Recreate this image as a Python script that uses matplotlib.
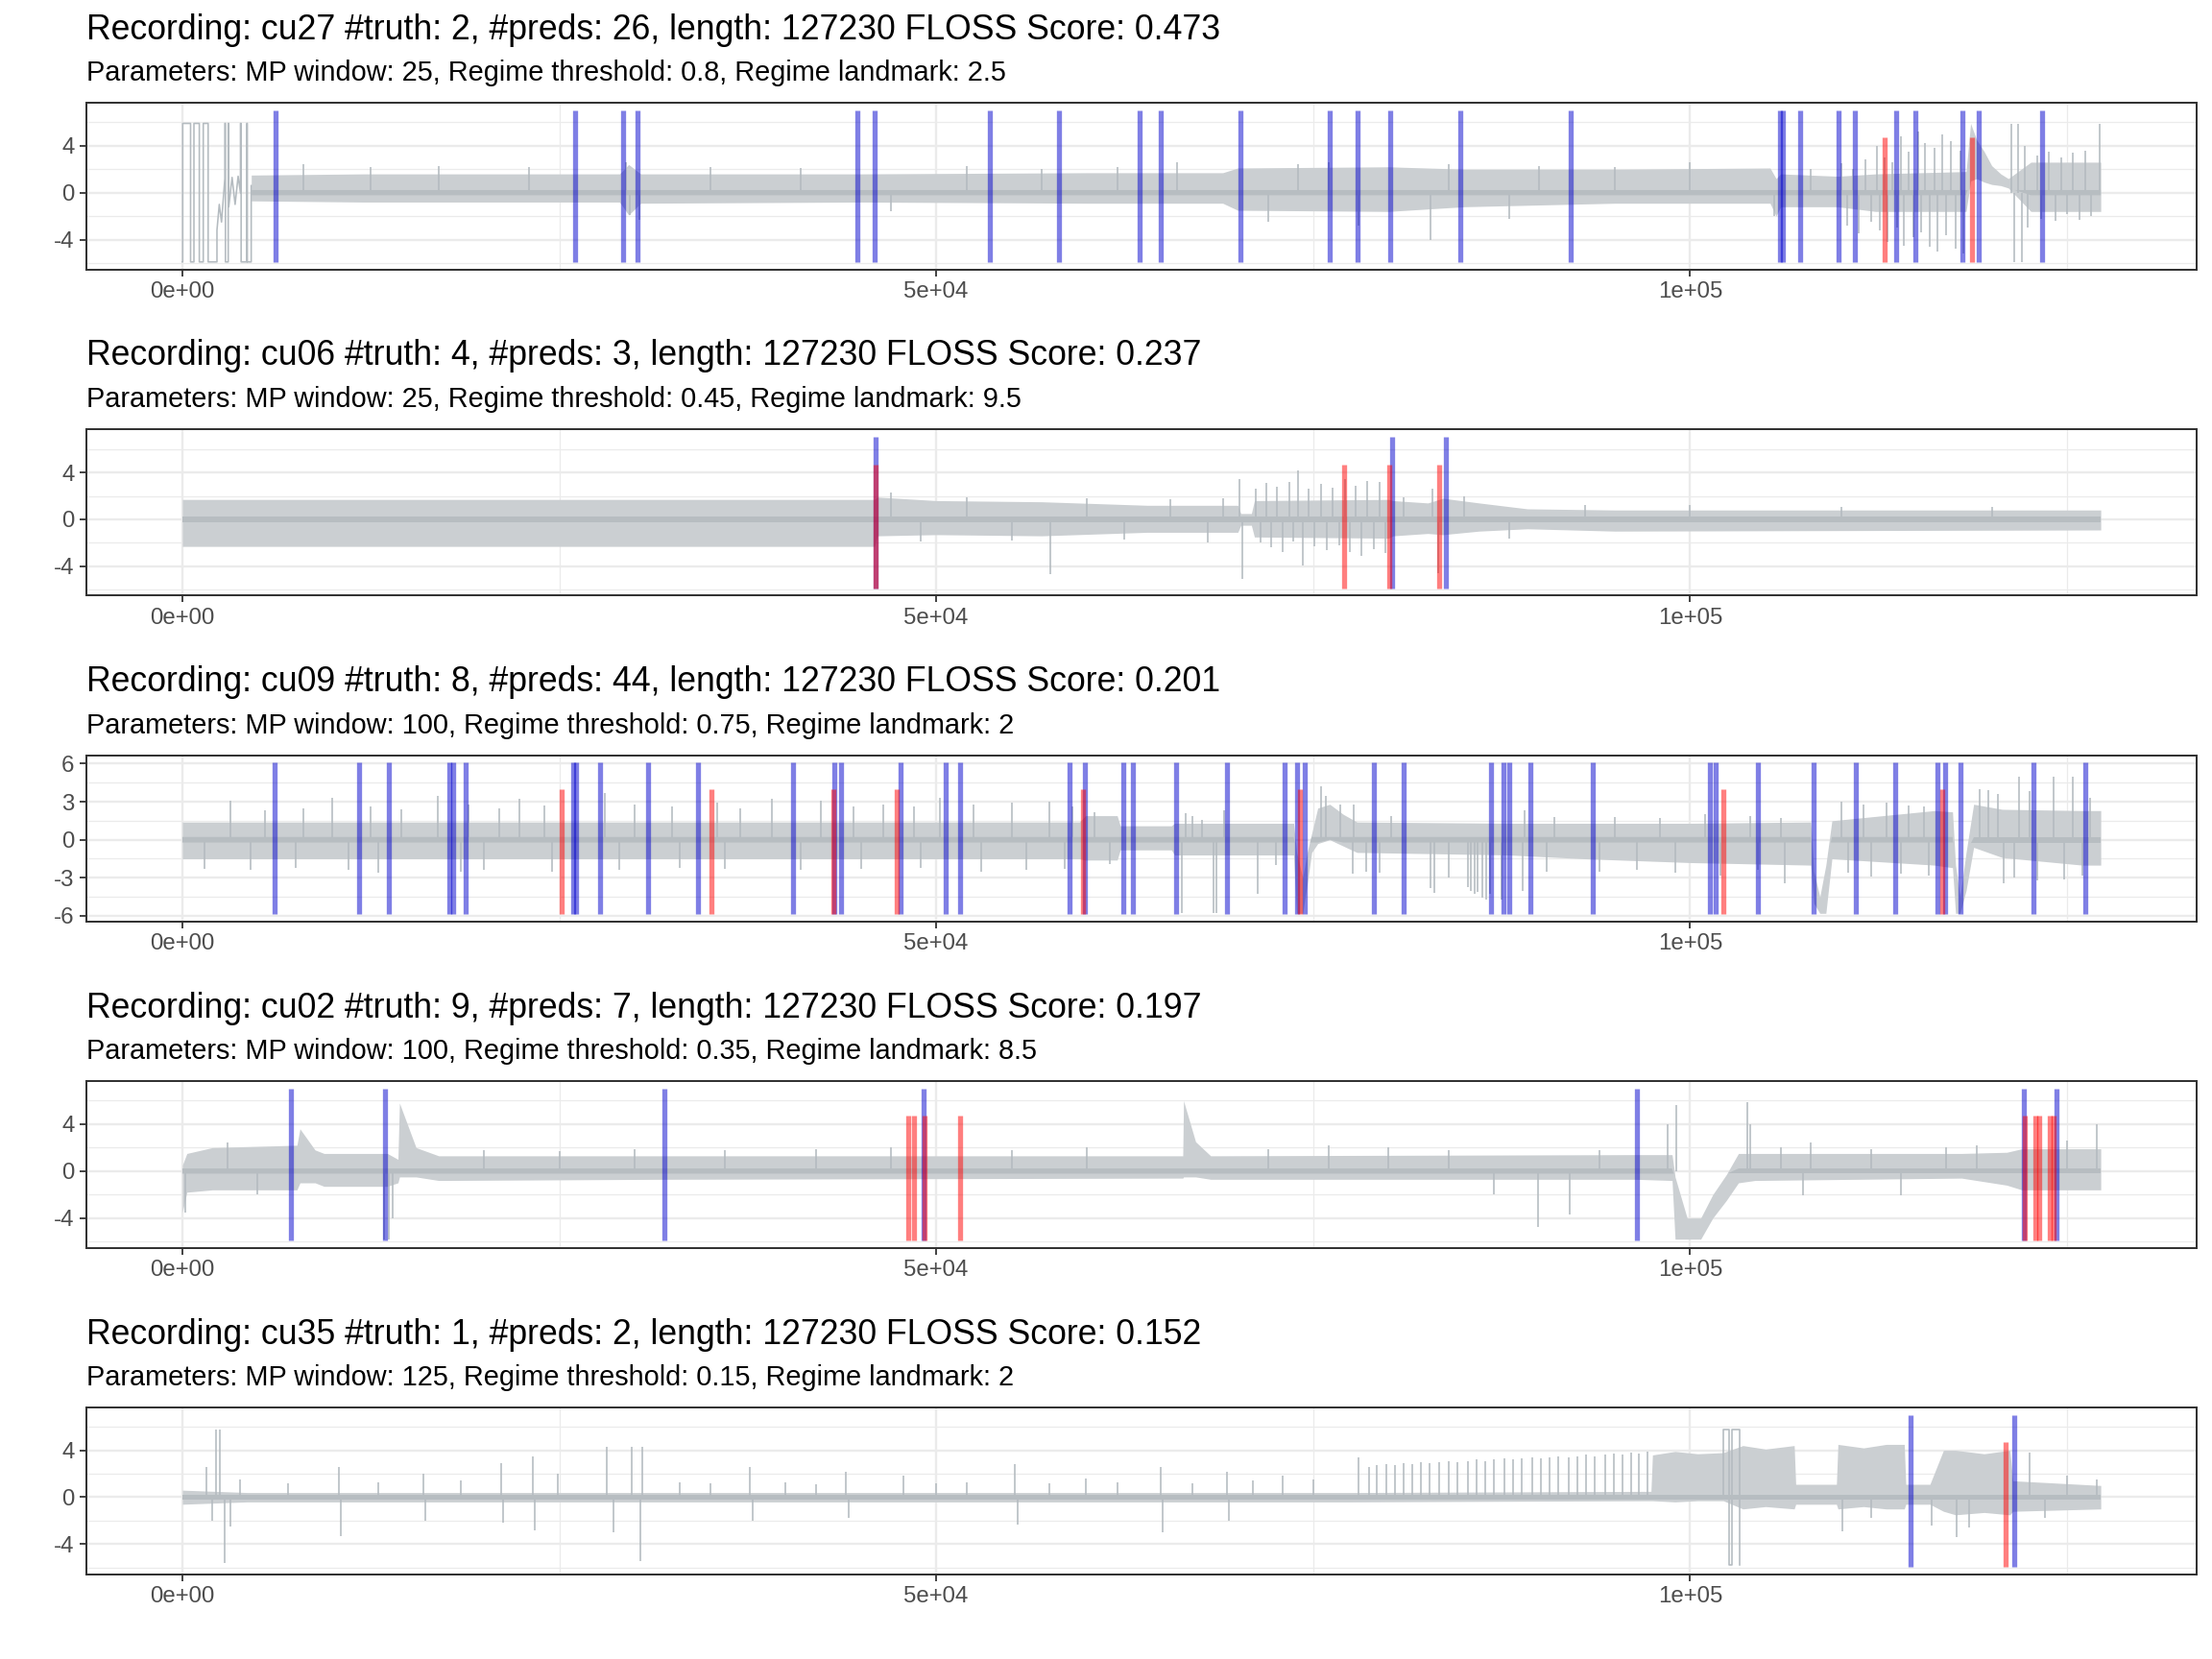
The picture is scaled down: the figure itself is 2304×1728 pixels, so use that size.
import numpy as np
import matplotlib
matplotlib.use("Agg")
import matplotlib.pyplot as plt
from matplotlib.ticker import FixedLocator

plt.rcParams['font.family'] = ['Liberation Sans', 'DejaVu Sans']

# ---------------- data ----------------
LENGTH = 127230
recordings = ["cu27", "cu06", "cu09", "cu02", "cu35"]
n_truth = [2, 4, 8, 9, 1]
n_preds = [26, 3, 44, 7, 2]
floss_score = ["0.473", "0.237", "0.201", "0.197", "0.152"]
mp_window = [25, 25, 100, 100, 125]
regime_threshold = ["0.8", "0.45", "0.75", "0.35", "0.15"]
regime_landmark = ["2.5", "9.5", "2", "8.5", "2"]

x_tick_values = [0, 50000, 100000]
x_tick_labels = ["0e+00", "5e+04", "1e+05"]

# segment extents (bottom, pred top, truth top)
seg_bottom = [-5.9, -5.85, -5.87, -5.9, -5.9]
pred_top = [7.0, 7.05, 6.07, 7.0, 7.0]
truth_top = [4.7, 4.7, 3.95, 4.7, 4.7]

# ---- cu27 ----
cu27_preds = [6168, 26075, 29253, 30188, 44767, 45889, 53553, 58132, 63459, 64861,
              70188, 76076, 77946, 80095, 84768, 92058, 105950, 106150, 107292, 109816,
              110937, 113647, 114956, 118040, 119162, 123367]
cu27_truth = [112900, 118694]
cu27_band_x = [4570, 12000, 29000, 29600, 30400, 45000, 60000, 69000, 70000, 80000, 85000,
               95000, 105300, 105700, 106000, 109800, 112300, 118300, 118600, 119000, 119500,
               120000, 120600, 121100, 122600, 127230]
cu27_band_hi = [1.5, 1.6, 1.6, 2.4, 1.6, 1.6, 1.7, 1.7, 2.1, 2.2, 2.0, 2.0, 2.1, 1.2, 1.6, 1.4,
                1.6, 1.8, 5.9, 4.5, 3.5, 2.3, 1.6, 1.2, 2.6, 2.6]
cu27_band_lo = [-0.7, -0.8, -0.8, -1.9, -0.9, -0.8, -0.9, -0.9, -1.5, -1.6, -1.2, -0.9, -0.9,
                -2.0, -1.2, -1.2, -1.6, -1.6, 1.0, 1.2, 0.9, 0.7, 0.6, 0.4, -1.6, -1.6]
cu27_trace_x = [0, 25, 25, 547, 547, 770, 770, 1127, 1127, 1389, 1389, 1712, 1712, 2297, 2297,
                2450, 2600, 2819, 2819, 2860, 2860, 3044, 3044, 3080, 3080, 3300, 3500, 3700,
                3856, 3856, 3900, 3900, 4276, 4276, 4310, 4310, 4569, 4569]
cu27_trace_y = [-5.9, -5.9, 5.9, 5.9, -5.9, -5.9, 5.9, 5.9, -5.9, -5.9, 5.9, 5.9, -5.9, -5.9,
                -3.2, -1.0, -2.5, 1.2, 5.9, 5.9, -5.9, -5.9, 5.9, 5.9, -1.2, 1.3, -1.0, 1.4,
                0.0, 5.9, 5.9, -5.9, -5.9, 5.9, 5.9, -5.9, -5.9, 0.6]
cu27_spike_x = [8000, 12500, 17000, 23000, 29400, 29700, 30300, 35000, 41000, 47000, 52000,
                57000, 62000, 66000, 72000, 74000, 76000, 78000, 82800, 84000, 88000, 90000,
                95000, 100000, 105600, 108000, 110000, 110400, 110800, 111200, 111600, 112000,
                112400, 112600, 112900, 113100, 113400, 113700, 114000, 114200, 114500, 114800,
                115100, 115300, 115600, 115900, 116200, 116400, 116700, 117000, 117300, 117600,
                117900, 118100, 121300, 121500, 121750, 122000, 122200, 122400, 123000, 123300,
                123800, 124200, 124600, 125000, 125400, 125800, 126200, 126600, 127150]
cu27_spike_y = [2.4, 2.2, 2.3, 2.2, 2.6, -1.9, -2.3, 2.2, 2.1, -1.6, 2.3, 2.0, 2.2, 2.6, -2.5,
                2.4, 2.6, -2.8, -4.0, 2.4, -2.2, 2.3, 2.2, 2.6, -2.0, 2.0, 2.5, -2.8, 2.0, -3.5,
                2.8, -2.5, 4.0, -3.2, 3.0, -4.2, 2.6, -3.0, 4.8, -4.5, 3.5, -3.8, 5.2, -3.4,
                4.2, -4.6, 3.8, -5.0, 5.0, -3.6, 4.4, -4.8, 3.6, -5.2, 5.9, -5.9, 5.9, -5.9,
                4.0, -3.0, 3.2, -2.2, 3.5, -2.4, 3.0, -1.8, 3.4, -2.3, 3.6, -2.0, 5.9]

# ---- cu06 ----
cu06_preds = [45992, 80217, 83806]
cu06_truth = [45992, 77039, 80020, 83329]
cu06_band_x = [0, 45900, 46100, 50000, 57000, 64000, 70000, 70200, 70900, 71100, 80000, 80300,
               82600, 83600, 86000, 89200, 95000, 127230]
cu06_band_hi = [1.7, 1.7, 1.9, 1.6, 1.5, 1.2, 1.2, 0.5, 0.5, 1.6, 1.7, 1.6, 1.4, 1.8, 1.4, 0.9,
                0.8, 0.8]
cu06_band_lo = [-2.3, -2.3, -1.4, -1.3, -1.4, -1.1, -1.1, -0.5, -0.5, -1.5, -1.6, -1.4, -1.2,
                -1.3, -1.0, -0.8, -1.0, -0.9]
cu06_trace_x = []
cu06_trace_y = []
cu06_spike_x = [47000, 49000, 52000, 55000, 57570, 60000, 62500, 65500, 68000, 69000, 70140,
                70300, 71200, 71500, 71900, 72200, 72600, 73000, 73400, 73700, 74000, 74300,
                74700, 75100, 75500, 75900, 76300, 76700, 77100, 77400, 77800, 78200, 78600,
                79000, 79400, 79800, 81000, 82900, 83300, 85000, 88000, 93000, 100000, 110000,
                120000]
cu06_spike_y = [2.3, -1.9, 1.9, -1.8, -4.7, 1.8, -1.7, 1.75, -2.0, 1.8, 3.4, -5.1, 2.6, -2.0,
                3.1, -2.4, 2.8, -2.8, 3.2, -1.9, 4.2, -3.9, 2.6, -2.3, 3.0, -2.6, 2.7, -2.2,
                3.4, -2.8, 2.9, -3.1, 3.3, -2.5, 3.2, -2.9, 1.9, 2.6, -4.6, 2.0, -1.6, 1.2,
                1.2, 1.1, 1.1]

# ---- cu09 ----
cu09_preds = [6104, 11703, 13697, 17728, 17982, 18809, 25893, 26083, 27718, 30899, 34207,
              40507, 43223, 43707, 47614, 50605, 51598, 58813, 59850, 62415, 63013, 65914,
              69312, 73130, 73913, 74422, 79003, 81020, 86810, 87593, 88019, 89393, 93511,
              101318, 101700, 104519, 108209, 111009, 113598, 116417, 116907, 117945, 122775,
              126191]
cu09_truth = [25128, 35079, 43179, 47379, 59743, 74123, 102183, 116716]
cu09_band_x = [0, 59500, 59900, 62000, 62200, 65600, 65800, 73700, 73900, 74300, 74600, 74900,
               75300, 76100, 77000, 77900, 88000, 93000, 100000, 108000, 108200, 108600,
               109000, 109400, 116200, 117400, 117600, 117900, 118300, 118800, 120700, 126000,
               127230]
cu09_band_hi = [1.4, 1.4, 1.9, 1.9, 1.1, 1.1, 1.3, 1.3, -1.0, -3.0, -1.0, 0.5, 2.5, 2.8, 2.0,
                1.4, 1.3, 1.3, 1.3, 1.4, -2.5, -4.5, -2.0, 1.5, 2.3, 2.2, -2.0, -4.5, -1.0,
                2.8, 2.4, 2.3, 2.3]
cu09_band_lo = [-1.5, -1.5, -1.6, -1.6, -0.8, -0.8, -1.2, -1.2, -5.8, -5.8, -3.5, -1.0, -0.3,
                0.0, -0.5, -1.0, -1.2, -1.5, -1.8, -2.0, -5.0, -5.8, -5.8, -1.5, -2.0, -2.2,
                -5.8, -5.8, -4.0, -0.6, -1.4, -2.0, -2.0]
cu09_trace_x = []
cu09_trace_y = []
cu09_spike_x = [1500, 3163, 4500, 5500, 7500, 8000, 9966, 11000, 12500, 13000, 14500, 16920,
                18500, 19000, 20000, 21000, 22372, 24000, 24500, 27990, 29000, 30000, 32500,
                33000, 35500, 36000, 37000, 39127, 41000, 42370, 44500, 45000, 46500, 48500,
                49000, 50262, 52500, 53000, 55000, 56000, 57500, 58500, 59000, 60500, 61500,
                66276, 66540, 67000, 67600, 68400, 68600, 69100, 71350, 72500, 75550, 75850,
                76800, 77600, 77700, 78500, 79400, 80200, 82800, 83010, 84000, 85260, 85470,
                85680, 85900, 86220, 86490, 86750, 87490, 88870, 89000, 90500, 91000, 94000,
                95000, 96500, 98000, 99000, 101000, 102000, 104000, 104500, 106000, 106260,
                110000, 110500, 111500, 112000, 113000, 114000, 114500, 115500, 115800, 119200,
                119800, 120400, 120800, 121500, 121800, 122500, 123000, 124100, 124800, 125350,
                126000, 126500]
cu09_spike_y = [-2.3, 3.1, -2.4, 2.3, -2.2, 2.5, 3.3, -2.4, 2.6, -2.6, 2.4, 3.45, -2.5, 2.8,
                -2.4, 2.5, 3.2, 2.7, -2.5, 3.7, -2.4, 2.8, 2.6, -2.2, 2.9, -2.3, 2.5, 3.2, -2.4,
                3.1, 2.6, -2.3, 2.8, 2.6, -2.2, 3.3, 2.8, -2.5, 2.9, -2.4, 3.0, -2.3, 2.6, 2.2,
                -1.9, -5.8, 2.1, 1.9, 1.6, -5.8, -5.8, 2.3, -4.3, -2.0, 4.2, 3.45, 2.8, -2.7,
                2.8, -2.5, -2.6, 1.9, -3.8, -4.2, -3.0, -3.7, -4.0, -4.3, -4.1, -4.6, -4.7,
                -4.3, -4.7, -4.0, 2.3, -2.5, 1.8, -2.5, 1.8, -2.4, 1.7, -2.6, 2.0, -2.8, 1.9,
                -2.4, 1.7, -3.4, 3.0, -2.6, 2.8, -2.9, 2.9, -2.7, 2.7, 2.6, -2.8, 4.0, 3.9, 3.6,
                -3.4, -3.0, 5.0, 3.8, -3.2, 5.0, -3.1, 5.0, -2.8, 3.3]

# ---- cu02 ----
cu02_preds = [7203, 13464, 31974, 49180, 96469, 122150, 124289]
cu02_truth = [48122, 48505, 49205, 51578, 122185, 122924, 123161, 123880, 124072]
cu02_band_x = [0, 300, 2000, 7600, 7800, 8800, 9400, 13600, 14300, 14400, 15500, 17000, 32000,
               66350, 66400, 67200, 68200, 96400, 98800, 99000, 99800, 100700, 101500, 102400,
               103200, 104300, 118000, 121000, 122000, 127230]
cu02_band_hi = [0.5, 1.5, 2.0, 2.2, 3.6, 1.8, 1.5, 1.5, 1.0, 5.8, 2.0, 1.3, 1.3, 1.3, 6.0, 2.5,
                1.3, 1.4, 1.4, -0.5, -4.0, -4.0, -2.0, -0.3, 1.5, 1.5, 1.5, 1.6, 1.9, 1.9]
cu02_band_lo = [-3.5, -1.8, -1.6, -1.6, -1.0, -1.0, -1.3, -1.3, -1.0, -0.5, -0.5, -0.8, -0.7,
                -0.6, -0.5, -0.5, -0.7, -0.7, -0.8, -5.8, -5.8, -5.8, -4.0, -2.5, -1.0, -0.8,
                -0.6, -1.2, -1.6, -1.6]
cu02_trace_x = []
cu02_trace_y = []
cu02_spike_x = [200, 3000, 5000, 13400, 13700, 13950, 20000, 25000, 30000, 36000, 42000, 47000,
                55000, 60000, 72000, 76000, 80000, 84000, 87000, 89895, 91985, 94000, 98500,
                99100, 103800, 104000, 106000, 107500, 108000, 112000, 114000, 117000, 119000,
                125000, 127000]
cu02_spike_y = [-3.5, 2.4, -2.0, -5.8, -5.8, -4.0, 1.8, 1.7, 1.9, 1.8, 1.9, 2.0, 1.8, 2.0, 1.9,
                2.2, 2.0, 1.8, -2.0, -4.8, -3.7, 1.8, 4.0, 5.6, 5.9, 4.0, 2.0, -2.1, 2.4, 1.9,
                -2.1, 2.0, 2.2, 2.6, 4.0]

# ---- cu35 ----
cu35_preds = [114604, 121521]
cu35_truth = [120900]
cu35_band_x = [0, 4300, 77600, 97400, 97500, 99000, 100500, 102200, 103500, 105000, 106900,
               107000, 109700, 109800, 111500, 113000, 114200, 114300, 115900, 116800, 117600,
               119500, 121200, 121400, 127230]
cu35_band_hi = [0.6, 0.4, 0.4, 0.5, 3.6, 3.9, 3.7, 3.8, 4.4, 4.1, 4.4, 1.1, 1.1, 4.5, 4.2, 4.5,
                4.5, 1.1, 1.1, 4.0, 4.0, 3.7, 4.0, 1.4, 1.0]
cu35_band_lo = [-0.6, -0.4, -0.4, -0.3, -0.3, -0.4, -0.3, -0.3, -1.0, -0.8, -1.0, -0.6, -0.6,
                -1.0, -0.8, -1.0, -1.0, -0.6, -0.6, -1.2, -1.5, -1.3, -1.5, -1.2, -1.0]
cu35_trace_x = [102200, 102200, 102600, 102600, 102800, 102800, 103300, 103300]
cu35_trace_y = [0.0, 5.8, 5.8, -5.8, -5.8, 5.8, 5.8, -5.8]
cu35_spike_x = [1590, 1960, 2240, 2520, 2800, 3180, 3830, 7000, 10370, 10500, 13000, 15980,
                16100, 18500, 21120, 21300, 23270, 23400, 24900, 28130, 28600, 29810, 30370,
                30500, 33000, 35000, 37660, 37800, 40000, 42000, 44020, 44200, 47800, 50000,
                52000, 55230, 55400, 57500, 59900, 62000, 64860, 65000, 67000, 69250, 69400,
                71000, 73000, 75000,
                78024, 78734, 79245, 79870, 80438, 81006, 81574, 82142, 82710, 83335, 83988,
                84556, 85266, 85834, 86402, 86970, 87680, 88248, 88816, 89526, 90094, 90662,
                91230, 91940, 92508, 93076, 93644, 94354, 94922, 95490, 96058, 96626, 97194,
                110100, 112000, 116000, 117700, 118500, 122500, 123500, 125000, 127000]
cu35_spike_y = [2.6, -2.0, 5.8, 5.8, -5.6, -2.5, 1.5, 1.2, 2.6, -3.3, 1.3, 2.0, -2.0, 1.4, 2.9,
                -2.2, 3.5, -2.8, 2.0, 4.3, -3.0, 4.3, -5.4, 4.3, 1.3, 1.2, 2.6, -2.0, 1.3, 1.1,
                2.2, -1.8, 1.8, 1.2, 1.3, 2.8, -2.3, 1.2, 1.6, 1.3, 2.6, -3.0, 1.2, 2.2, -2.0,
                1.4, 1.8, 1.5,
                3.4, 2.6, 2.7, 2.8, 2.7, 2.9, 2.8, 3.0, 2.9, 3.0, 3.1, 3.0, 3.1, 3.2, 3.1, 3.2,
                3.3, 3.2, 3.3, 3.4, 3.3, 3.4, 3.5, 3.4, 3.5, 3.6, 3.5, 3.6, 3.7, 3.6, 3.8, 3.7,
                3.9,
                -2.9, -1.8, -2.4, -3.4, -2.6, 3.8, -1.8, 1.8, 1.5]

panels = [
    (cu27_preds, cu27_truth, cu27_band_x, cu27_band_hi, cu27_band_lo, cu27_trace_x, cu27_trace_y, cu27_spike_x, cu27_spike_y),
    (cu06_preds, cu06_truth, cu06_band_x, cu06_band_hi, cu06_band_lo, cu06_trace_x, cu06_trace_y, cu06_spike_x, cu06_spike_y),
    (cu09_preds, cu09_truth, cu09_band_x, cu09_band_hi, cu09_band_lo, cu09_trace_x, cu09_trace_y, cu09_spike_x, cu09_spike_y),
    (cu02_preds, cu02_truth, cu02_band_x, cu02_band_hi, cu02_band_lo, cu02_trace_x, cu02_trace_y, cu02_spike_x, cu02_spike_y),
    (cu35_preds, cu35_truth, cu35_band_x, cu35_band_hi, cu35_band_lo, cu35_trace_x, cu35_trace_y, cu35_spike_x, cu35_spike_y),
]

# ---------------- figure ----------------
W, H = 2304, 1728
fig = plt.figure(figsize=(16, 12), dpi=144)

AX_L, AX_R = 90, 2288
AX_TOP0, AX_H, STEP = 107.2, 173.5, 339.7
TITLE_BASE, SUB_BASE = 40.7, 84.3

SIG_BAND = '#CBCFD2'
SIG_CORE = '#B7BDC1'
SIG_LINE = '#B4BBC0'
PRED_COL = (0.0, 0.0, 0.8)
TRUTH_COL = (1.0, 0.0, 0.0)
GRID_COL = '#EBEBEB'
DARK = '#333333'
TICK_TXT = '#4D4D4D'

pad = 0.05 * (LENGTH - 1)

for i, (preds, truth, bx, bhi, blo, tx, ty, sx, sy) in enumerate(panels):
    top = AX_TOP0 + STEP * i
    ax = fig.add_axes([AX_L / W, 1 - (top + AX_H) / H, (AX_R - AX_L) / W, AX_H / H])

    lo_val = seg_bottom[i]
    hi_val = pred_top[i]
    rng = hi_val - lo_val
    ax.set_ylim(lo_val - 0.05 * rng, hi_val + 0.05 * rng)
    ax.set_xlim(-pad, LENGTH - 1 + pad)

    # grid
    if i == 2:
        ymaj = [-6, -3, 0, 3, 6]
        ymin = [-4.5, -1.5, 1.5, 4.5]
    else:
        ymaj = [-4, 0, 4]
        ymin = [-6, -2, 2, 6]
    xmin = [25000, 75000, 125000]
    for v in ymin:
        ax.axhline(v, color=GRID_COL, lw=0.6, zorder=0)
    for v in xmin:
        ax.axvline(v, color=GRID_COL, lw=0.6, zorder=0)
    for v in ymaj:
        ax.axhline(v, color=GRID_COL, lw=1.2, zorder=0)
    for v in x_tick_values:
        ax.axvline(v, color=GRID_COL, lw=1.2, zorder=0)

    # signal
    bx_a = np.asarray(bx, float)
    bhi_a = np.asarray(bhi, float)
    blo_a = np.asarray(blo, float)
    ax.fill_between(bx_a, blo_a, bhi_a, color=SIG_BAND, lw=0, zorder=1)
    chi = np.minimum(bhi_a, 0.22)
    clo = np.maximum(blo_a, -0.22)
    ax.fill_between(bx_a, clo, chi, where=chi > clo, interpolate=True,
                    color=SIG_CORE, lw=0, zorder=1.5)
    if len(sx):
        ax.vlines(sx, 0, sy, colors=SIG_LINE, lw=0.8, zorder=1.4)
    if len(tx):
        ax.plot(tx, ty, color=SIG_LINE, lw=0.8, zorder=1.4)

    # predictions and truth
    ax.vlines(preds, lo_val, hi_val, colors=[PRED_COL], alpha=0.5, lw=2.65, zorder=3)
    ax.vlines(truth, lo_val, truth_top[i], colors=[TRUTH_COL], alpha=0.5, lw=2.65, zorder=4)

    # axes styling
    ax.xaxis.set_major_locator(FixedLocator(x_tick_values))
    ax.set_xticklabels(x_tick_labels)
    ax.yaxis.set_major_locator(FixedLocator(ymaj))
    ax.set_yticklabels([str(v) for v in ymaj])
    ax.tick_params(axis='both', which='major', length=3.44, width=0.9, color=DARK,
                   labelcolor=TICK_TXT, labelsize=12, pad=2.75)
    ax.tick_params(top=False, right=False)
    for sp in ax.spines.values():
        sp.set_color(DARK)
        sp.set_linewidth(1.0)
        sp.set_zorder(6)
    ax.set_facecolor('white')

    title = (f"Recording: {recordings[i]} #truth: {n_truth[i]}, #preds: {n_preds[i]}, "
             f"length: {LENGTH} FLOSS Score: {floss_score[i]}")
    subtitle = (f"Parameters: MP window: {mp_window[i]}, Regime threshold: {regime_threshold[i]}, "
                f"Regime landmark: {regime_landmark[i]}")
    fig.text(AX_L / W, 1 - (TITLE_BASE + STEP * i) / H, title, fontsize=17.8,
             color='black', va='baseline', ha='left')
    fig.text(AX_L / W, 1 - (SUB_BASE + STEP * i) / H, subtitle, fontsize=14.45,
             color='black', va='baseline', ha='left')

fig.savefig("out.png", dpi=144, facecolor='white')
